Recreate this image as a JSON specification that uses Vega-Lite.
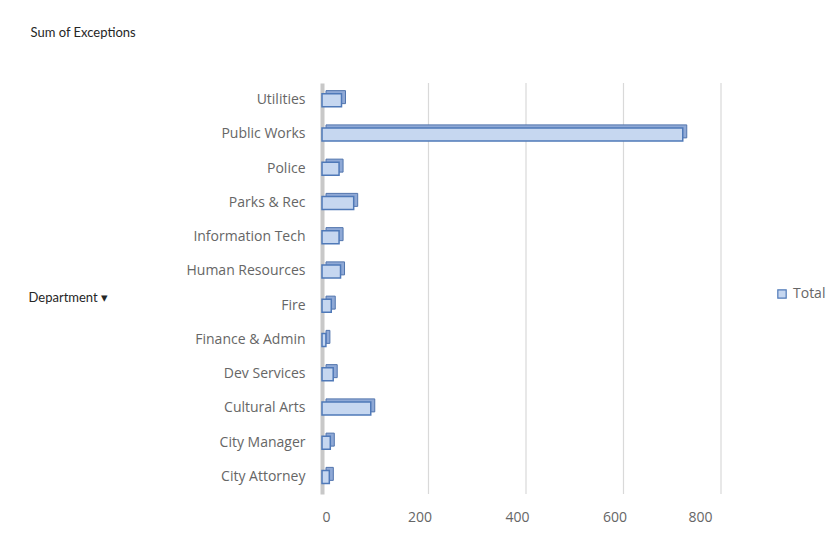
{
  "$schema": "https://vega.github.io/schema/vega-lite/v6.json",
  "width": 390,
  "height": 411,
  "autosize": {"type": "none"},
  "padding": {"left": 322, "top": 83, "right": 126, "bottom": 52},
  "background": "white",
  "config": {"view": {"stroke": null}, "font": "Open Sans"},
  "datasets": {
    "grid": [{"v": 200}, {"v": 400}, {"v": 600}, {"v": 800}],
    "depts": [
      {"Department": "Utilities", "Exceptions": 40, "Series": "Total"},
      {"Department": "Public Works", "Exceptions": 740, "Series": "Total"},
      {"Department": "Police", "Exceptions": 35, "Series": "Total"},
      {"Department": "Parks & Rec", "Exceptions": 65, "Series": "Total"},
      {"Department": "Information Tech", "Exceptions": 35, "Series": "Total"},
      {"Department": "Human Resources", "Exceptions": 38, "Series": "Total"},
      {"Department": "Fire", "Exceptions": 19, "Series": "Total"},
      {"Department": "Finance & Admin", "Exceptions": 8, "Series": "Total"},
      {"Department": "Dev Services", "Exceptions": 23, "Series": "Total"},
      {"Department": "Cultural Arts", "Exceptions": 100, "Series": "Total"},
      {"Department": "City Manager", "Exceptions": 17, "Series": "Total"},
      {"Department": "City Attorney", "Exceptions": 15, "Series": "Total"}
    ]
  },
  "layer": [
    {
      "data": {"name": "grid"},
      "mark": {"type": "rule", "color": "#d9d9d9", "strokeWidth": 1.2, "xOffset": 9},
      "encoding": {
        "x": {
          "field": "v", "type": "quantitative", "scale": {"domain": [0, 800], "nice": false},
          "axis": {
            "values": [0, 200, 400, 600, 800],
            "title": "Sum of Exceptions", "titleX": -292, "titleY": -462,
            "titleAlign": "left", "titleBaseline": "middle", "titleFontSize": 13,
            "titleFontWeight": "normal", "titleColor": "#262626", "titleFont": "Lato",
            "labelFontSize": 14, "labelColor": "#666666", "labelPadding": 16,
            "ticks": false, "domain": false, "grid": false
          }
        }
      }
    },
    {
      "data": {"name": "depts"},
      "encoding": {
        "y": {
          "field": "Department", "type": "nominal", "sort": "descending",
          "scale": {"paddingInner": 0.6, "paddingOuter": 0.3},
          "axis": {
            "title": "Department  \u25BE", "titleAngle": 0, "titleX": -294, "titleY": 214,
            "titleAlign": "left", "titleBaseline": "middle", "titleFontSize": 13,
            "titleFontWeight": "normal", "titleColor": "#262626", "titleFont": "Lato",
            "labelFontSize": 14, "labelColor": "#666666", "labelPadding": 17,
            "ticks": false, "domainColor": "#c8c8c8", "domainWidth": 4
          }
        },
        "x": {
          "field": "Exceptions", "type": "quantitative",
          "scale": {"domain": [0, 800], "nice": false},
          "axis": {
            "values": [0, 200, 400, 600, 800],
            "title": "Sum of Exceptions", "titleX": -292, "titleY": -462,
            "titleAlign": "left", "titleBaseline": "middle", "titleFontSize": 13,
            "titleFontWeight": "normal", "titleColor": "#262626", "titleFont": "Lato",
            "labelFontSize": 14, "labelColor": "#666666", "labelPadding": 16,
            "ticks": false, "domain": false, "grid": false
          }
        }
      },
      "layer": [
        {
          "mark": {"type": "bar", "size": 13, "xOffset": 4, "yOffset": -3, "fill": "#8fa9d6", "stroke": "#5275ad", "strokeWidth": 1}
        },
        {
          "mark": {
            "type": "bar", "size": 13, "stroke": "#4f79b8", "strokeWidth": 1.5,
            "color": {"gradient": "linear", "x1": 0, "y1": 0, "x2": 0, "y2": 1,
              "stops": [{"offset": 0, "color": "#b9cdec"}, {"offset": 0.5, "color": "#dde8f8"}, {"offset": 1, "color": "#bcd0ee"}]}
          },
          "encoding": {
            "fill": {
              "field": "Series", "type": "nominal",
              "scale": {"range": ["#c6d7f0"]},
              "legend": {
                "title": null, "orient": "none", "legendX": 453, "legendY": 204,
                "symbolType": "square", "symbolSize": 70, "symbolStrokeColor": "#4f79b8",
                "symbolStrokeWidth": 1.2, "labelFontSize": 14, "labelColor": "#666666", "labelOffset": 4,
                "labelFont": "Open Sans"
              }
            }
          }
        }
      ]
    }
  ]
}
